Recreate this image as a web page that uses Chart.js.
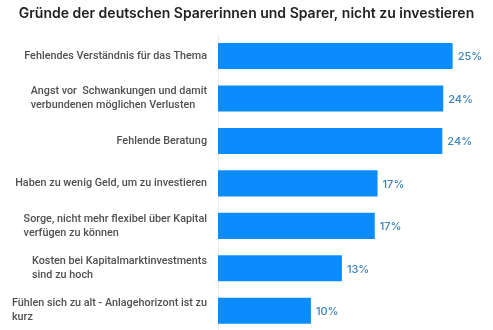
<!DOCTYPE html>
<html lang="de">
<head>
<meta charset="utf-8">
<script src="https://cdn.jsdelivr.net/npm/chart.js@4"></script>
<style>
    html, body { margin: 0; padding: 0; background: #fff; overflow: hidden; }
    #wrap { width: 493px; height: 332px; position: relative; }
</style>
</head>
<body>
<div id="wrap"><canvas id="grafico"></canvas></div>
<script>
// Kategorien (mehrzeilig wie im Original)
const kategorien = [
    ['Fehlendes Verständnis für das Thema'],
    ['Angst vor  Schwankungen und damit', 'verbundenen möglichen Verlusten'],
    ['Fehlende Beratung'],
    ['Haben zu wenig Geld, um zu investieren'],
    ['Sorge, nicht mehr flexibel über Kapital', 'verfügen zu können'],
    ['Kosten bei Kapitalmarktinvestments', 'sind zu hoch'],
    ['Fühlen sich zu alt - Anlagehorizont ist zu', 'kurz']
];
const anteile = [25, 24, 23.9, 17, 16.7, 13.2, 9.9];
const titel = 'Gründe der deutschen Sparerinnen und Sparer, nicht zu investieren';

const FONT = 'Inter, "Noto Sans", sans-serif';
const LABEL_FONT = '500 10.8px Roboto, sans-serif';

// Achsenbeschriftung: Block rechtsbündig, Zeilen linksbündig (wie im Original)
const kategorieLabels = {
    id: 'kategorieLabels',
    afterDraw(chart) {
        const ctx = chart.ctx;
        const y = chart.scales.y;
        const rechts = y.right - 11;
        const zeile = 14;
        ctx.save();
        ctx.font = LABEL_FONT;
        ctx.fillStyle = '#505050';
        ctx.textAlign = 'left';
        ctx.textBaseline = 'middle';
        kategorien.forEach((zeilen, i) => {
            const breite = Math.max(...zeilen.map(z => ctx.measureText(z).width));
            const mitte = y.getPixelForTick(i);
            const start = mitte - (zeilen.length - 1) * zeile / 2;
            zeilen.forEach((z, k) => ctx.fillText(z, rechts - breite, start + k * zeile));
        });
        ctx.restore();
    }
};

// Prozentwerte rechts neben den Balken
const werteLabels = {
    id: 'werteLabels',
    afterDatasetsDraw(chart) {
        const ctx = chart.ctx;
        const meta = chart.getDatasetMeta(0);
        ctx.save();
        ctx.font = '500 11px ' + FONT;
        ctx.fillStyle = '#3b82c0';
        ctx.textAlign = 'left';
        ctx.textBaseline = 'middle';
        meta.data.forEach((bar, i) => {
            ctx.fillText(Math.round(anteile[i]) + '%', bar.x + 5, bar.y + 1);
        });
        ctx.restore();
    }
};

new Chart(document.getElementById('grafico').getContext('2d'), {
    type: 'bar',
    data: {
        labels: kategorien,
        datasets: [{
            data: anteile,
            backgroundColor: '#0b8cfd',
            barPercentage: 0.615,
            categoryPercentage: 1
        }]
    },
    options: {
        indexAxis: 'y',
        responsive: true,
        maintainAspectRatio: false,
        animation: false,
        layout: { padding: 0 },
        plugins: {
            legend: { display: false },
            tooltip: { enabled: false },
            title: {
                display: true,
                text: titel,
                align: 'center',
                color: '#222',
                font: { family: FONT, size: 14, weight: '600' },
                padding: { top: 5, bottom: 13 }
            }
        },
        scales: {
            x: { display: false, min: 0, max: 29.3 },
            y: {
                grid: { display: false, drawTicks: false },
                border: { display: true, color: '#e8eaec', width: 1 },
                ticks: { display: false },
                afterFit: scale => {
                    scale.width = 218;
                    scale.paddingTop = 0;
                    scale.paddingBottom = 0;
                }
            }
        }
    },
    plugins: [kategorieLabels, werteLabels]
});
</script>
</body>
</html>
